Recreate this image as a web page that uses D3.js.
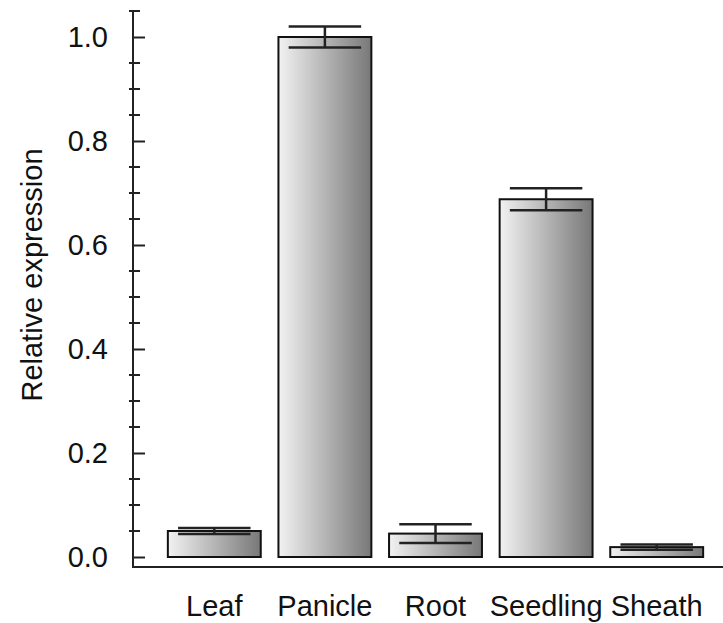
<!DOCTYPE html>
<html>
<head>
<meta charset="utf-8">
<script src="https://cdn.jsdelivr.net/npm/d3@7"></script>
<style>
  body { margin: 0; background: #fff; }
  text { font-family: Arial, "Liberation Sans", sans-serif; fill: #111; }
</style>
</head>
<body>
<div id="container"></div>
<script>
/* DATA */
const tissues = ["Leaf", "Panicle", "Root", "Seedling", "Sheath"];
const means = [0.05, 1.0, 0.045, 0.688, 0.019];
const errors = [0.006, 0.02, 0.018, 0.021, 0.005];
const majorTicks = [0, 0.2, 0.4, 0.6, 0.8, 1.0];
const minorTicks = d3.range(0, 22).map(i => i * 0.05).filter(v => !majorTicks.some(m => Math.abs(m - v) < 1e-9));

/* CONSTANTS */
const width = 723, height = 623;
const axisX = 133, baseY = 567;

const svg = d3.select("#container")
  .append("svg")
  .attr("width", width)
  .attr("height", height);

const grad = svg.append("defs").append("linearGradient")
  .attr("id", "barGrad")
  .attr("x1", "0%").attr("x2", "100%")
  .attr("y1", "0%").attr("y2", "0%");
grad.append("stop").attr("offset", "0%").attr("stop-color", "#f2f2f2");
grad.append("stop").attr("offset", "100%").attr("stop-color", "#787878");

// SCALES
const y = d3.scaleLinear().domain([0, 1.05]).range([557, 11]);
const x = d3.scaleBand().domain(tissues).range([159, 712])
  .paddingInner(0.16).paddingOuter(0.08);

// BARS
const data = tissues.map((t, i) => ({ t, m: means[i], e: errors[i] }));

svg.selectAll("rect.bar")
  .data(data)
  .enter()
  .append("rect")
  .attr("class", "bar")
  .attr("x", d => x(d.t))
  .attr("width", x.bandwidth())
  .attr("y", d => y(d.m))
  .attr("height", d => y(0) - y(d.m))
  .attr("fill", "url(#barGrad)")
  .attr("stroke", "#111")
  .attr("stroke-width", 2);

// ERROR BARS
const capW = x.bandwidth() * 0.78;
const eb = svg.selectAll("g.err")
  .data(data)
  .enter()
  .append("g")
  .attr("class", "err")
  .attr("stroke", "#222")
  .attr("stroke-width", 2.5);
eb.append("line")
  .attr("x1", d => x(d.t) + x.bandwidth() / 2)
  .attr("x2", d => x(d.t) + x.bandwidth() / 2)
  .attr("y1", d => y(d.m - d.e))
  .attr("y2", d => y(d.m + d.e));
eb.selectAll("line.cap")
  .data(d => [d.m - d.e, d.m + d.e].map(v => ({ t: d.t, v })))
  .enter()
  .append("line")
  .attr("class", "cap")
  .attr("x1", d => x(d.t) + (x.bandwidth() - capW) / 2)
  .attr("x2", d => x(d.t) + (x.bandwidth() + capW) / 2)
  .attr("y1", d => y(d.v))
  .attr("y2", d => y(d.v));

// Y AXIS
const yAxis = svg.append("g")
  .attr("transform", `translate(${axisX},0)`)
  .call(d3.axisLeft(y).tickValues(majorTicks).tickFormat(d3.format(".1f")).tickSize(10).tickPadding(15));
yAxis.select(".domain").remove();
yAxis.selectAll(".tick line").attr("x2", 12).attr("stroke", "#222").attr("stroke-width", 2);
yAxis.selectAll(".tick text").style("font-size", "29px").attr("fill", "#111");

yAxis.selectAll("line.minor")
  .data(minorTicks)
  .enter()
  .append("line")
  .attr("class", "minor")
  .attr("x1", -4).attr("x2", 7)
  .attr("y1", d => y(d)).attr("y2", d => y(d))
  .attr("stroke", "#222").attr("stroke-width", 2);

svg.append("line")
  .attr("x1", axisX).attr("x2", axisX)
  .attr("y1", y(1.05)).attr("y2", baseY)
  .attr("stroke", "#222").attr("stroke-width", 2);

// X AXIS
svg.append("line")
  .attr("x1", axisX - 1).attr("x2", width)
  .attr("y1", baseY).attr("y2", baseY)
  .attr("stroke", "#222").attr("stroke-width", 2);

svg.selectAll("text.xlab")
  .data(tissues)
  .enter()
  .append("text")
  .attr("class", "xlab")
  .attr("x", d => x(d) + x.bandwidth() / 2)
  .attr("y", 616)
  .attr("text-anchor", "middle")
  .style("font-size", "29px")
  .text(d => d);

// Y LABEL
svg.append("text")
  .attr("transform", "translate(42,275) rotate(-90)")
  .attr("text-anchor", "middle")
  .style("font-size", "29px")
  .text("Relative expression");
</script>
</body>
</html>
